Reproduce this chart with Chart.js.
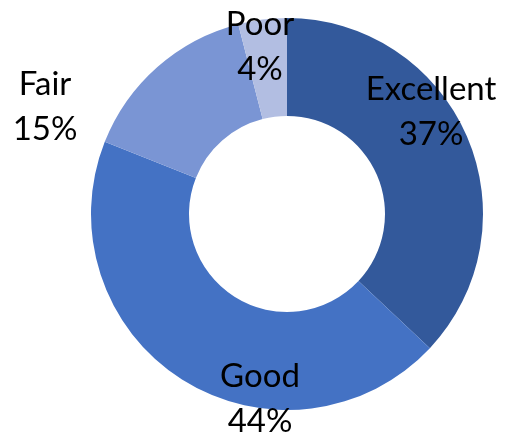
<!DOCTYPE html>
<html>
<head>
<meta charset="utf-8">
<script src="https://cdn.jsdelivr.net/npm/chart.js@4"></script>
<style>
html,body{margin:0;padding:0;background:#fff;}
#wrap{width:505px;height:435px;position:relative;}
</style>
</head>
<body>
<div id="wrap"><canvas id="c" width="505" height="435"></canvas></div>
<script>
const categories = ["Excellent", "Good", "Fair", "Poor"];
const values = [37, 44, 15, 4];
const percentLabels = ["37%", "44%", "15%", "4%"];
const colors = ["#33599B", "#4472C4", "#7A95D4", "#B2BEE2"];

// label block offsets from the doughnut centre (first-line baseline)
const labelOffsets = [
  {dx: 144, dy: -114},
  {dx: -27, dy: 173},
  {dx: -242, dy: -119},
  {dx: -27, dy: -179}
];

const labelPlugin = {
  id: 'outerLabels',
  afterDatasetsDraw(chart) {
    const meta = chart.getDatasetMeta(0);
    const ctx = chart.ctx;
    ctx.save();
    ctx.font = '33px Lato';
    ctx.fillStyle = '#000';
    ctx.textAlign = 'center';
    ctx.textBaseline = 'alphabetic';
    meta.data.forEach((arc, i) => {
      const o = labelOffsets[i];
      const x = arc.x + o.dx, y = arc.y + o.dy;
      ctx.fillText(categories[i], x, y);
      ctx.fillText(percentLabels[i], x, y + 45);
    });
    ctx.restore();
  }
};

new Chart(document.getElementById('c'), {
  type: 'doughnut',
  data: {
    labels: categories,
    datasets: [{
      data: values,
      backgroundColor: colors,
      borderWidth: 0
    }]
  },
  options: {
    responsive: false,
    animation: false,
    cutout: '50%',
    layout: {padding: {left: 91, right: 22, top: 18, bottom: 25}},
    plugins: {legend: {display: false}, tooltip: {enabled: false}}
  },
  plugins: [labelPlugin]
});
</script>
</body>
</html>
